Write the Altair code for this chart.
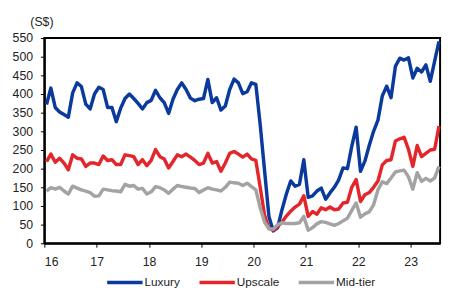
import altair as alt
import pandas as pd

# Monthly average room rates (S$), Jan 2016 - Jul 2023
luxury = [
    372, 416, 364, 352, 345, 338, 403, 430, 420, 373, 360, 400,
    418, 412, 364, 364, 326, 362, 388, 400, 388, 375, 360, 377,
    383, 410, 390, 377, 348, 386, 412, 430, 412, 389, 382, 386,
    388, 439, 377, 390, 357, 368, 412, 440, 430, 401, 406, 430,
    426, 318, 195, 72, 33, 42, 90, 132, 167, 153, 158, 224,
    123, 127, 140, 148, 118, 135, 150, 170, 202, 200, 260, 311,
    193, 220, 262, 300, 330, 395, 421, 390, 474, 496, 491, 497,
    443, 469, 459, 478, 434, 488, 541,
]
upscale = [
    219, 239, 217, 228, 215, 197, 237, 228, 226, 206, 215, 215,
    211, 234, 222, 224, 211, 211, 237, 235, 232, 211, 224, 208,
    222, 251, 232, 226, 202, 219, 237, 232, 239, 231, 222, 211,
    215, 241, 215, 219, 193, 215, 241, 246, 239, 231, 239, 226,
    222, 150, 75, 40, 35, 45, 57, 73, 86, 97, 105, 127,
    72, 85, 78, 95, 90, 97, 90, 92, 108, 110, 150, 171,
    112, 130, 136, 150, 167, 210, 222, 224, 274, 280, 284, 252,
    206, 262, 232, 241, 250, 252, 314,
]
midtier = [
    140, 149, 145, 150, 140, 132, 153, 148, 143, 140, 136, 126,
    127, 145, 143, 141, 140, 138, 158, 153, 155, 145, 147, 132,
    138, 152, 149, 143, 134, 145, 155, 152, 150, 148, 147, 136,
    143, 149, 145, 143, 140, 150, 164, 162, 161, 155, 161, 152,
    143, 95, 57, 39, 38, 50, 55, 53, 53, 53, 55, 72,
    35, 42, 52, 58, 56, 52, 48, 53, 60, 67, 88, 108,
    70, 79, 84, 103, 143, 165, 160, 175, 191, 194, 196, 178,
    145, 189, 166, 174, 167, 175, 206,
]
series_names = ["Luxury", "Upscale", "Mid-tier"]
series_colors = ["#0A3A9C", "#E3262B", "#A3A3A3"]
year_ticks = [2016, 2017, 2018, 2019, 2020, 2021, 2022, 2023]

months = pd.date_range("2016-01-01", periods=len(luxury), freq="MS")
xpos = [d.year + (d.month - 0.5) / 12 for d in months]

rows = []
for name, vals in zip(series_names, [luxury, upscale, midtier]):
    for xp, v in zip(xpos, vals):
        rows.append({"t": xp, "value": v, "series": name})
df = pd.DataFrame(rows)

font = "Liberation Sans"

chart = alt.Chart(df).mark_line(strokeWidth=3.5, strokeJoin="round").encode(
    x=alt.X(
        "t:Q",
        scale=alt.Scale(domain=[2016, 2023.5625], nice=False, zero=False),
        axis=alt.Axis(
            values=year_ticks,
            labelExpr="substring(toString(datum.value), 2, 4)",
            title=None,
            grid=False,
            tickSize=4,
            labelPadding=9,
            labelFontSize=12.5,
            labelFont=font,
            labelColor="#222222",
            domainColor="#000000",
            domainWidth=2,
            tickColor="#000000",
        ),
    ),
    y=alt.Y(
        "value:Q",
        scale=alt.Scale(domain=[0, 550], nice=False),
        axis=alt.Axis(
            values=list(range(0, 551, 50)),
            title="(S$)",
            titleAngle=0,
            titleAlign="center",
            titleBaseline="alphabetic",
            titleX=-3,
            titleY=-13,
            titleFontSize=12.5,
            titleFontWeight="normal",
            titleFont=font,
            titleColor="#222222",
            grid=False,
            tickSize=4,
            labelPadding=8,
            labelFontSize=12.5,
            labelFont=font,
            labelColor="#222222",
            domainColor="#000000",
            domainWidth=2,
            tickColor="#000000",
        ),
    ),
    color=alt.Color(
        "series:N",
        sort=series_names,
        scale=alt.Scale(domain=series_names, range=series_colors),
        legend=alt.Legend(
            title=None,
            orient="none",
            direction="horizontal",
            legendX=62,
            legendY=229,
            symbolType="stroke",
            symbolSize=1296,
            symbolStrokeWidth=3.5,
            labelOffset=0,
            columnPadding=12,
            padding=0,
            labelFontSize=12,
            labelFont=font,
            labelColor="#222222",
        ),
    ),
).properties(
    width=403,
    height=209,
    autosize=alt.AutoSizeParams(type="none"),
    padding={"left": 37, "top": 28, "right": 5, "bottom": 46},
).configure_view(
    stroke="#000000",
    strokeWidth=2,
)

chart.save("out.html", embed_options={"renderer": "svg", "actions": False})
